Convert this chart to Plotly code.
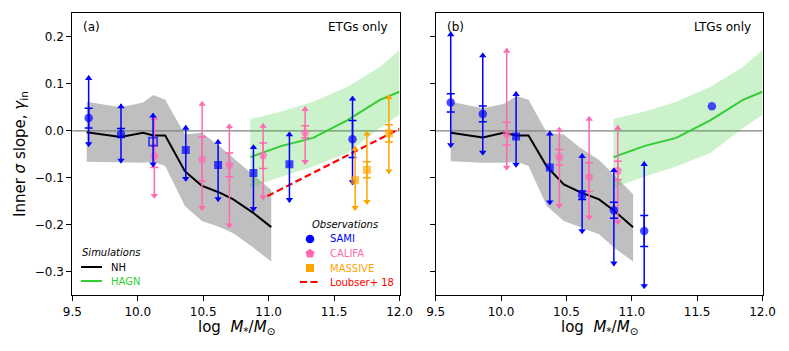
import math
import plotly.graph_objects as go
from plotly.subplots import make_subplots

# ---------------- data ----------------
X_TICKS = [9.5, 10.0, 10.5, 11.0, 11.5, 12.0]
Y_TICKS = [-0.3, -0.2, -0.1, 0.0, 0.1, 0.2]

# NH simulation (panel a: ETGs)
NH_X_A = [9.61, 9.87, 10.04, 10.12, 10.21, 10.36, 10.49, 10.63, 10.73, 10.88, 11.02]
NH_Y_A = [-0.003, -0.013, -0.004, -0.010, -0.010, -0.086, -0.117, -0.132, -0.146, -0.174, -0.205]
NH_HI_A = [0.062, 0.050, 0.060, 0.076, 0.066, -0.008, -0.004, -0.034, -0.058, -0.093, -0.126]
NH_LO_A = [-0.066, -0.067, -0.068, -0.066, -0.075, -0.160, -0.192, -0.205, -0.218, -0.248, -0.278]

# NH simulation (panel b: LTGs)
NH_X_B = [9.615, 9.86, 10.02, 10.12, 10.21, 10.35, 10.48, 10.60, 10.75, 10.87, 11.01]
NH_Y_B = [-0.004, -0.014, -0.004, -0.010, -0.010, -0.076, -0.114, -0.130, -0.146, -0.171, -0.205]
NH_HI_B = [0.062, 0.048, 0.057, 0.074, 0.066, -0.004, -0.008, -0.035, -0.062, -0.095, -0.135]
NH_LO_B = [-0.065, -0.068, -0.068, -0.066, -0.075, -0.160, -0.192, -0.205, -0.220, -0.250, -0.278]

# HAGN simulation
HAGN_X = [10.86, 11.10, 11.34, 11.60, 11.85, 12.0]
HAGN_Y = [-0.056, -0.032, -0.015, 0.022, 0.066, 0.083]
HAGN_HI = [0.025, 0.041, 0.062, 0.093, 0.136, 0.172]
HAGN_LO = [-0.121, -0.097, -0.076, -0.047, 0.006, 0.034]

# Loubser+ 18 relation
LOUBSER_X = [10.99, 12.0]
LOUBSER_Y = [-0.139, 0.004]

# SAMI (panel a)
SAMI_X_A = [9.625, 9.872, 10.117, 10.367, 10.614, 10.884, 11.159, 11.641]
SAMI_Y_A = [0.027, -0.007, -0.023, -0.041, -0.073, -0.090, -0.071, -0.018]
SAMI_CAPHI_A = [0.048, 0.005, None, None, None, None, None, 0.022]
SAMI_CAPLO_A = [0.006, -0.014, None, None, None, None, None, -0.057]
SAMI_TOP_A = [0.117, 0.057, 0.037, 0.011, -0.019, -0.030, -0.003, 0.073]
SAMI_BOT_A = [-0.033, -0.068, -0.076, -0.107, -0.150, -0.171, -0.152, -0.114]

# CALIFA (panel a)
CALIFA_X_A = [10.127, 10.492, 10.700, 10.958, 11.279]
CALIFA_Y_A = [-0.054, -0.061, -0.073, -0.053, -0.004]
CALIFA_CAPHI_A = [-0.033, -0.013, -0.047, -0.026, 0.011]
CALIFA_CAPLO_A = [-0.078, -0.107, -0.098, -0.080, -0.015]
CALIFA_TOP_A = [0.032, 0.062, 0.014, 0.015, 0.051]
CALIFA_BOT_A = [-0.143, -0.169, -0.206, -0.146, -0.071]

# MASSIVE (panel a)
MASSIVE_X_A = [11.661, 11.751, 11.919]
MASSIVE_Y_A = [-0.105, -0.083, -0.005]
MASSIVE_CAPHI_A = [None, -0.066, 0.013]
MASSIVE_CAPLO_A = [None, -0.100, -0.024]
MASSIVE_TOP_A = [-0.033, -0.001, 0.076]
MASSIVE_BOT_A = [-0.169, -0.156, -0.091]

# SAMI (panel b)
SAMI_X_B = [9.615, 9.860, 10.115, 10.373, 10.620, 10.863, 11.095, 11.613]
SAMI_Y_B = [0.060, 0.036, -0.012, -0.078, -0.137, -0.169, -0.213, 0.052]
SAMI_CAPHI_B = [0.079, 0.053, None, None, -0.128, -0.152, -0.180, None]
SAMI_CAPLO_B = [0.040, 0.019, None, None, -0.146, -0.186, -0.246, None]
SAMI_TOP_B = [0.210, 0.165, 0.083, -0.001, -0.049, -0.079, -0.066, None]
SAMI_BOT_B = [-0.035, -0.051, -0.077, -0.157, -0.218, -0.287, -0.335, None]

# CALIFA (panel b)
CALIFA_X_B = [10.043, 10.446, 10.674, 10.893]
CALIFA_Y_B = [-0.007, -0.056, -0.098, -0.085]
CALIFA_CAPHI_B = [0.018, -0.040, -0.068, -0.065]
CALIFA_CAPLO_B = [-0.030, -0.073, -0.129, -0.104]
CALIFA_TOP_B = [0.175, 0.007, 0.030, 0.011]
CALIFA_BOT_B = [-0.083, -0.164, -0.189, -0.199]

# ---------------- styles ----------------
BLUE = "#0000ff"
PINK = "#ff69b4"
ORANGE = "#ffa500"
RED = "#ff0000"
GREEN = "#32cd32"
BLACK = "#000000"
FONT = "DejaVu Sans"
RED_DASH = "7px,3.5px"

SAMI_SYM_A = ["circle", "circle", "square-open", "square", "square", "square", "square", "circle"]
SAMI_SYM_B = ["circle", "circle", "square", "square", "circle", "circle", "circle", "circle"]

W, H = 789, 351
PX_PER_UNIT_Y = 472.0
ARROW_OFF = 2.5 / PX_PER_UNIT_Y

fig = make_subplots(rows=1, cols=2)


def band(row, col, x, lo, hi, fill):
    fig.add_trace(go.Scatter(x=x, y=lo, mode="lines", line=dict(width=0),
                             hoverinfo="skip", showlegend=False), row=row, col=col)
    fig.add_trace(go.Scatter(x=x, y=hi, mode="lines", line=dict(width=0), fill="tonexty",
                             fillcolor=fill, hoverinfo="skip", showlegend=False), row=row, col=col)


def line(row, col, x, y, color, dash="solid", width=2):
    fig.add_trace(go.Scatter(x=x, y=y, mode="lines", line=dict(color=color, width=width, dash=dash),
                             showlegend=False), row=row, col=col)


def sizes_for(symbols):
    out = []
    for s in symbols:
        if s.startswith("square"):
            out.append(8)
        elif s == "pentagon":
            out.append(9)
        else:
            out.append(8.5)
    return out


def obs(row, col, X, Y, caphi, caplo, top, bot, color, symbols):
    # outer range with arrow heads
    idx = [i for i in range(len(X)) if top[i] is not None]
    fig.add_trace(go.Scatter(
        x=[X[i] for i in idx], y=[Y[i] for i in idx], mode="markers",
        marker=dict(size=1, opacity=0),
        error_y=dict(type="data", symmetric=False,
                     array=[top[i] - Y[i] for i in idx],
                     arrayminus=[Y[i] - bot[i] for i in idx],
                     width=0, thickness=1.5, color=color),
        showlegend=False, hoverinfo="skip"), row=row, col=col)
    fig.add_trace(go.Scatter(
        x=[X[i] for i in idx], y=[top[i] - ARROW_OFF for i in idx], mode="markers",
        marker=dict(symbol="triangle-up", size=6.5, color=color),
        showlegend=False, hoverinfo="skip"), row=row, col=col)
    fig.add_trace(go.Scatter(
        x=[X[i] for i in idx], y=[bot[i] + ARROW_OFF for i in idx], mode="markers",
        marker=dict(symbol="triangle-down", size=6.5, color=color),
        showlegend=False, hoverinfo="skip"), row=row, col=col)
    # inner error with caps
    jdx = [i for i in range(len(X)) if caphi[i] is not None]
    if jdx:
        fig.add_trace(go.Scatter(
            x=[X[i] for i in jdx], y=[Y[i] for i in jdx], mode="markers",
            marker=dict(size=1, opacity=0),
            error_y=dict(type="data", symmetric=False,
                         array=[caphi[i] - Y[i] for i in jdx],
                         arrayminus=[Y[i] - caplo[i] for i in jdx],
                         width=4, thickness=1.5, color=color),
            showlegend=False, hoverinfo="skip"), row=row, col=col)
    fig.add_trace(go.Scatter(
        x=X, y=Y, mode="markers",
        marker=dict(symbol=symbols, size=sizes_for(symbols), color=color,
                    line=dict(width=[1.8 if s.endswith("open") else 0 for s in symbols], color=color)),
        showlegend=False), row=row, col=col)


GRAY_FILL = "rgba(128,128,128,0.5)"
GREEN_FILL = "rgba(50,205,50,0.25)"

# Panel a
band(1, 1, NH_X_A, NH_LO_A, NH_HI_A, GRAY_FILL)
band(1, 1, HAGN_X, HAGN_LO, HAGN_HI, GREEN_FILL)
line(1, 1, NH_X_A, NH_Y_A, BLACK)
line(1, 1, HAGN_X, HAGN_Y, GREEN)
line(1, 1, LOUBSER_X, LOUBSER_Y, RED, dash=RED_DASH, width=2.2)
obs(1, 1, CALIFA_X_A, CALIFA_Y_A, CALIFA_CAPHI_A, CALIFA_CAPLO_A, CALIFA_TOP_A, CALIFA_BOT_A,
    PINK, ["pentagon"] * len(CALIFA_X_A))
obs(1, 1, SAMI_X_A, SAMI_Y_A, SAMI_CAPHI_A, SAMI_CAPLO_A, SAMI_TOP_A, SAMI_BOT_A, BLUE, SAMI_SYM_A)
obs(1, 1, MASSIVE_X_A, MASSIVE_Y_A, MASSIVE_CAPHI_A, MASSIVE_CAPLO_A, MASSIVE_TOP_A, MASSIVE_BOT_A,
    ORANGE, ["square"] * len(MASSIVE_X_A))

# Panel b
band(1, 2, NH_X_B, NH_LO_B, NH_HI_B, GRAY_FILL)
band(1, 2, HAGN_X, HAGN_LO, HAGN_HI, GREEN_FILL)
line(1, 2, NH_X_B, NH_Y_B, BLACK)
line(1, 2, HAGN_X, HAGN_Y, GREEN)
obs(1, 2, CALIFA_X_B, CALIFA_Y_B, CALIFA_CAPHI_B, CALIFA_CAPLO_B, CALIFA_TOP_B, CALIFA_BOT_B,
    PINK, ["pentagon"] * len(CALIFA_X_B))
obs(1, 2, SAMI_X_B, SAMI_Y_B, SAMI_CAPHI_B, SAMI_CAPLO_B, SAMI_TOP_B, SAMI_BOT_B, BLUE, SAMI_SYM_B)

# ---------------- layout ----------------
def px(x):
    return x / W


def py(y):
    return 1 - y / H


XDOM_A = [px(72.3), px(399.5)]
XDOM_B = [px(435.7), px(762.5)]
YDOM = [py(295.3), py(13.3)]

axis_common = dict(showline=True, linecolor="black", linewidth=1, mirror=True,
                   ticks="outside", ticklen=5, tickwidth=1, tickcolor="black",
                   showgrid=False, zeroline=False, automargin=False,
                   tickfont=dict(family=FONT, size=12, color="black"))

fig.update_xaxes(range=[9.5, 12.0], tickvals=X_TICKS, tickformat=".1f", **axis_common)
fig.update_yaxes(range=[-0.35, 0.25], tickvals=Y_TICKS, tickformat=".1f", **axis_common)
fig.update_layout(
    xaxis=dict(domain=XDOM_A), xaxis2=dict(domain=XDOM_B),
    yaxis=dict(domain=YDOM), yaxis2=dict(domain=YDOM, showticklabels=False),
)

shapes = []
for xr, yr in (("x", "y"), ("x2", "y2")):
    shapes.append(dict(type="line", xref=f"{xr} domain", yref=yr, x0=0, x1=1, y0=0, y1=0,
                       line=dict(color="#808080", width=1.3), layer="below"))

annotations = []


def txt(text, x, y, size=12, color="black", xanchor="left", angle=0, yanchor="middle"):
    annotations.append(dict(text=text, x=px(x), y=py(y), xref="paper", yref="paper",
                            showarrow=False, xanchor=xanchor, yanchor=yanchor, textangle=angle,
                            font=dict(family=FONT, size=size, color=color)))


txt("(a)", 81, 27)
txt("ETGs only", 390, 27, xanchor="right")
txt("(b)", 445, 27)
txt("LTGs only", 753, 27, xanchor="right")
txt("Inner <i>σ</i> slope, <i>γ</i><sub>in</sub>", 20, 154, size=15, xanchor="center", angle=-90)
txt("log  <i>M</i><sub>*</sub>/<i>M</i><sub>⊙</sub>", 236, 327, size=15, xanchor="center")
txt("log  <i>M</i><sub>*</sub>/<i>M</i><sub>⊙</sub>", 599, 327, size=15, xanchor="center")

# legend: simulations
LEG_FS = 10
txt("<i>Simulations</i>", 80, 253, size=LEG_FS)
for yy, col, lab in ((267, BLACK, "NH"), (281, GREEN, "HAGN")):
    shapes.append(dict(type="line", xref="paper", yref="paper", x0=px(81), x1=px(102),
                       y0=py(yy), y1=py(yy), line=dict(color=col, width=2)))
    txt(lab, 109, yy, size=LEG_FS, color=col)

# legend: observations
txt("<i>Observations</i>", 345, 224, size=LEG_FS, xanchor="center")
MX = 310
shapes.append(dict(type="circle", xref="paper", yref="paper", x0=px(MX - 4.3), x1=px(MX + 4.3),
                   y0=py(239 + 4.3), y1=py(239 - 4.3), fillcolor=BLUE, line=dict(width=0)))
pts = []
for k in range(5):
    a = math.radians(-90 + 72 * k)
    pts.append((px(MX + 4.8 * math.cos(a)), py(253.5 + 4.8 * math.sin(a))))
path = "M " + " L ".join(f"{a:.5f},{b:.5f}" for a, b in pts) + " Z"
shapes.append(dict(type="path", xref="paper", yref="paper", path=path, fillcolor=PINK, line=dict(width=0)))
shapes.append(dict(type="rect", xref="paper", yref="paper", x0=px(MX - 4), x1=px(MX + 4),
                   y0=py(268 + 4), y1=py(268 - 4), fillcolor=ORANGE, line=dict(width=0)))
shapes.append(dict(type="line", xref="paper", yref="paper", x0=px(300), x1=px(320),
                   y0=py(282), y1=py(282), line=dict(color=RED, width=2, dash=RED_DASH)))
txt("SAMI", 328, 239, size=LEG_FS, color=BLUE)
txt("CALIFA", 328, 253.5, size=LEG_FS, color=PINK)
txt("MASSIVE", 328, 268, size=LEG_FS, color=ORANGE)
txt("Loubser+ 18", 328, 282, size=LEG_FS, color=RED)

fig.update_layout(
    width=W, height=H, margin=dict(l=0, r=0, t=0, b=0, autoexpand=False),
    autosize=False,
    paper_bgcolor="white", plot_bgcolor="white",
    showlegend=False, shapes=shapes, annotations=annotations,
    font=dict(family=FONT, color="black"),
)

fig.write_html("out.html", config={"responsive": False, "displayModeBar": False},
               post_script="document.body.style.margin='0';document.body.style.overflow='hidden';")
